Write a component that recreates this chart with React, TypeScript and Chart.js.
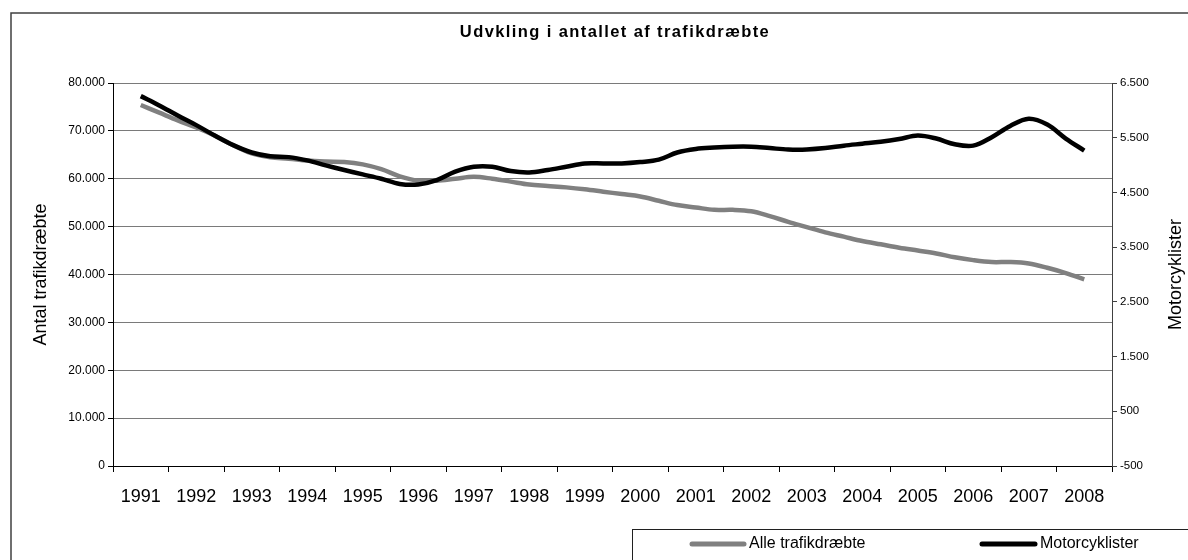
import { useEffect, useRef } from 'react';
import { Chart, registerables } from 'chart.js';

Chart.register(...registerables);

const FONT = '"Liberation Sans", Arial, sans-serif';

const chartTitle = 'Udvkling i antallet af trafikdræbte';
const leftAxisTitle = 'Antal trafikdræbte';
const rightAxisTitle = 'Motorcyklister';
const seriesNames = ['Alle trafikdræbte', 'Motorcyklister'];

const years = ['1991', '1992', '1993', '1994', '1995', '1996', '1997', '1998', '1999', '2000', '2001', '2002', '2003', '2004', '2005', '2006', '2007', '2008'];
const pointsPerYear = 3;

// Alle trafikdræbte (left axis), three readings per year, 1991 → 2008
const alleTrafikdraebte = [
  75400, 73800, 72200, 70700, 69000, 67000, 65300, 64500, 64200, 63800,
  63600, 63500, 63000, 62000, 60500, 59600, 59600, 60000, 60400, 60000,
  59400, 58800, 58500, 58200, 57800, 57300, 56800, 56300, 55400, 54500,
  54000, 53500, 53500, 53200, 52200, 51000, 49900, 48800, 47900, 47000,
  46300, 45600, 45000, 44400, 43600, 43000, 42600, 42600, 42300, 41400,
  40300, 39000,
];

// Motorcyklister (right axis)
const motorcyklister = [
  6260, 6090, 5905, 5730, 5540, 5365, 5230, 5160, 5145, 5085,
  4995, 4910, 4830, 4750, 4655, 4645, 4725, 4880, 4970, 4970,
  4890, 4865, 4910, 4970, 5030, 5030, 5030, 5055, 5100, 5230,
  5295, 5320, 5335, 5335, 5310, 5285, 5285, 5310, 5355, 5390,
  5425, 5475, 5540, 5485, 5380, 5355, 5510, 5715, 5845, 5740,
  5485, 5265,
];

const leftMin = 0;
const leftMax = 80000;
const leftStep = 10000;
const rightMin = -500;
const rightMax = 6500;
const rightStep = 1000;

const fmt = (v: number) => {
  const s = Math.abs(Math.round(v)).toString().replace(/\B(?=(\d{3})+(?!\d))/g, '.');
  return (v < 0 ? '-' : '') + s;
};

const toPoints = (arr: number[]) => arr.map((v, k) => ({ x: k / pointsPerYear, y: v }));

const decor = {
  id: 'decor',
  afterDraw(chart: any) {
    const ctx = chart.ctx as CanvasRenderingContext2D;
    const area = chart.chartArea;
    ctx.save();
    // outer chart border
    ctx.strokeStyle = '#404040';
    ctx.lineWidth = 1.5;
    ctx.beginPath();
    ctx.moveTo(11, 560);
    ctx.lineTo(11, 13);
    ctx.lineTo(1188, 13);
    ctx.stroke();

    // title
    ctx.save();
    ctx.fillStyle = '#000';
    ctx.font = `bold 16.5px ${FONT}`;
    (ctx as any).letterSpacing = '1.4px';
    ctx.textAlign = 'center';
    ctx.textBaseline = 'middle';
    ctx.fillText(chartTitle, 615, 32);
    ctx.restore();

    // right axis title, reading upward
    ctx.save();
    ctx.fillStyle = '#000';
    ctx.textAlign = 'center';
    ctx.textBaseline = 'middle';
    ctx.translate(1176, (area.top + area.bottom) / 2);
    ctx.rotate(-Math.PI / 2);
    ctx.font = `18px ${FONT}`;
    ctx.fillText(rightAxisTitle, 0, 0);
    ctx.restore();

    // legend box
    ctx.strokeStyle = '#202020';
    ctx.lineWidth = 1;
    ctx.strokeRect(632.5, 529.5, 700, 100);
    const items = [
      { name: seriesNames[0], color: '#808080', x0: 692, x1: 744, tx: 749 },
      { name: seriesNames[1], color: '#000000', x0: 982, x1: 1035, tx: 1040 },
    ];
    ctx.font = `16px ${FONT}`;
    ctx.textAlign = 'left';
    ctx.textBaseline = 'middle';
    for (const it of items) {
      ctx.strokeStyle = it.color;
      ctx.lineWidth = 5;
      ctx.lineCap = 'round';
      ctx.beginPath();
      ctx.moveTo(it.x0, 544);
      ctx.lineTo(it.x1, 544);
      ctx.stroke();
      ctx.fillStyle = '#000';
      ctx.fillText(it.name, it.tx, 544);
    }
    ctx.restore();
  },
};

export default function App() {
  const ref = useRef<HTMLCanvasElement>(null);
  useEffect(() => {
    Chart.defaults.font.family = FONT;
    const chart = new Chart(ref.current!, {
      type: 'line',
      data: {
        labels: years,
        datasets: [
          {
            label: seriesNames[1],
            data: toPoints(motorcyklister),
            xAxisID: 'xq',
            yAxisID: 'y2',
            borderColor: '#000000',
            borderWidth: 4.5,
            pointRadius: 0,
            tension: 0.35,
            fill: false,
            order: 0,
          },
          {
            label: seriesNames[0],
            data: toPoints(alleTrafikdraebte),
            xAxisID: 'xq',
            yAxisID: 'y',
            borderColor: '#808080',
            borderWidth: 4.5,
            pointRadius: 0,
            tension: 0.35,
            fill: false,
            order: 1,
          },
        ],
      },
      options: {
        responsive: false,
        animation: false,
        layout: { padding: { top: 83, left: 0, right: 0, bottom: 0 } },
        plugins: {
          legend: { display: false },
          title: { display: false },
          tooltip: { enabled: false },
        },
        scales: {
          x: {
            type: 'category',
            position: 'bottom',
            offset: true,
            grid: {
              offset: true,
              drawOnChartArea: false,
              drawTicks: true,
              tickLength: 6,
              color: '#000',
              tickColor: '#000',
              lineWidth: 1,
            },
            border: { display: true, color: '#000', width: 1 },
            ticks: {
              font: { size: 18, family: FONT },
              color: '#000',
              padding: 14,
              maxRotation: 0,
              autoSkip: false,
            },
            afterFit: (s: any) => {
              s.height = 94;
            },
          },
          xq: {
            type: 'linear',
            axis: 'x',
            position: 'bottom',
            display: false,
            min: -0.5,
            max: 17.5,
          },
          y: {
            type: 'linear',
            position: 'left',
            min: leftMin,
            max: leftMax,
            ticks: {
              stepSize: leftStep,
              callback: (v: any) => fmt(Number(v)),
              font: { size: 12, family: FONT },
              color: '#000',
              padding: 3,
            },
            grid: { color: '#7a7a7a', tickColor: '#000', tickLength: 5, lineWidth: 1 },
            border: { color: '#000', width: 1 },
            title: {
              display: true,
              text: leftAxisTitle,
              font: { size: 18, family: FONT },
              color: '#000',
              padding: { top: 30, bottom: 0 },
            },
            afterFit: (s: any) => {
              s.width = 113;
            },
          },
          y2: {
            type: 'linear',
            position: 'right',
            min: rightMin,
            max: rightMax,
            ticks: {
              stepSize: rightStep,
              callback: (v: any) => fmt(Number(v)),
              font: { size: 11.5, family: FONT },
              color: '#000',
              padding: 3,
            },
            grid: { drawOnChartArea: false, tickColor: '#404040', tickLength: 5 },
            border: { color: '#404040', width: 1 },
            afterFit: (s: any) => {
              s.width = 76;
            },
          },
        },
      },
      plugins: [decor],
    } as any);
    return () => chart.destroy();
  }, []);
  return (
    <div style={{ position: 'fixed', left: 0, top: 0, width: 1188, height: 560, background: '#fff' }}>
      <canvas ref={ref} width={1188} height={560} style={{ display: 'block' }} />
    </div>
  );
}
